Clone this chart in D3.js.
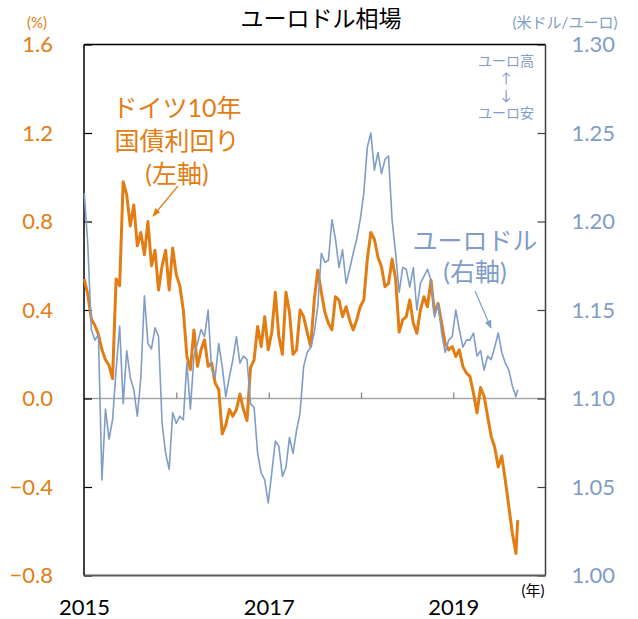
<!DOCTYPE html>
<html>
<head>
<meta charset="utf-8">
<script src="https://cdn.jsdelivr.net/npm/d3@7"></script>
<style>
  body { margin: 0; background: #fff; }
  svg text { font-family: Lato, "Noto Sans CJK JP", sans-serif; }
</style>
</head>
<body>
<div class="chart"></div>
<script>
var dates = [
  "2015-01-02","2015-01-16","2015-01-30","2015-02-13","2015-02-27","2015-03-13","2015-03-27","2015-04-10","2015-04-24","2015-05-08",
  "2015-05-22","2015-06-05","2015-06-19","2015-07-03","2015-07-17","2015-07-31","2015-08-14","2015-08-28","2015-09-11","2015-09-25",
  "2015-10-09","2015-10-23","2015-11-06","2015-11-20","2015-12-04","2015-12-18","2016-01-01","2016-01-15","2016-01-29","2016-02-12",
  "2016-02-26","2016-03-11","2016-03-25","2016-04-08","2016-04-22","2016-05-06","2016-05-20","2016-06-03","2016-06-17","2016-07-01",
  "2016-07-15","2016-07-29","2016-08-12","2016-08-26","2016-09-09","2016-09-23","2016-10-07","2016-10-21","2016-11-04","2016-11-18",
  "2016-12-02","2016-12-16","2016-12-30","2017-01-13","2017-01-27","2017-02-10","2017-02-24","2017-03-10","2017-03-24","2017-04-07",
  "2017-04-21","2017-05-05","2017-05-19","2017-06-02","2017-06-16","2017-06-30","2017-07-14","2017-07-28","2017-08-11","2017-08-25",
  "2017-09-08","2017-09-22","2017-10-06","2017-10-20","2017-11-03","2017-11-17","2017-12-01","2017-12-15","2017-12-29","2018-01-12",
  "2018-01-26","2018-02-09","2018-02-23","2018-03-09","2018-03-23","2018-04-06","2018-04-20","2018-05-04","2018-05-18","2018-06-01",
  "2018-06-15","2018-06-29","2018-07-13","2018-07-27","2018-08-10","2018-08-24","2018-09-07","2018-09-21","2018-10-05","2018-10-19",
  "2018-11-02","2018-11-16","2018-11-30","2018-12-14","2018-12-28","2019-01-11","2019-01-25","2019-02-08","2019-02-22","2019-03-08",
  "2019-03-22","2019-04-05","2019-04-19","2019-05-03","2019-05-17","2019-05-31","2019-06-14","2019-06-28","2019-07-12","2019-07-26",
  "2019-08-09","2019-08-23","2019-09-06","2019-09-13"
];

// German 10y Bund yield (%), left axis
var bundYield = [
  0.54,0.47,0.36,0.33,0.29,0.22,0.175,0.15,0.09,0.54,
  0.51,0.98,0.92,0.78,0.875,0.69,0.75,0.65,0.80,0.60,
  0.67,0.49,0.60,0.67,0.49,0.68,0.56,0.51,0.40,0.19,
  0.13,0.31,0.145,0.22,0.265,0.145,0.16,0.07,0.04,-0.16,
  -0.12,-0.05,-0.08,-0.05,0.02,-0.05,-0.10,0.14,0.175,0.325,
  0.235,0.37,0.22,0.30,0.48,0.28,0.20,0.48,0.39,0.20,
  0.22,0.40,0.37,0.30,0.235,0.445,0.58,0.48,0.39,0.34,
  0.31,0.46,0.445,0.37,0.415,0.355,0.31,0.355,0.415,0.445,
  0.63,0.75,0.72,0.64,0.595,0.505,0.52,0.63,0.54,0.30,
  0.355,0.37,0.445,0.34,0.295,0.40,0.46,0.415,0.535,0.385,
  0.43,0.34,0.25,0.22,0.235,0.19,0.22,0.145,0.115,0.10,
  0.025,-0.065,0.05,0.01,-0.08,-0.17,-0.22,-0.31,-0.26,-0.37,
  -0.49,-0.61,-0.70,-0.55
];

// EUR/USD (USD per EUR), right axis
var eurUsd = [
  1.216,1.187,1.139,1.133,1.136,1.054,1.094,1.077,1.088,1.116,
  1.141,1.097,1.127,1.112,1.105,1.090,1.112,1.158,1.131,1.128,
  1.140,1.135,1.086,1.069,1.060,1.092,1.086,1.090,1.088,1.120,
  1.094,1.124,1.131,1.139,1.135,1.150,1.116,1.112,1.131,1.118,
  1.101,1.112,1.122,1.135,1.120,1.124,1.122,1.097,1.095,1.069,
  1.058,1.054,1.041,1.058,1.076,1.073,1.056,1.061,1.078,1.069,
  1.082,1.092,1.118,1.126,1.129,1.137,1.152,1.182,1.177,1.178,
  1.201,1.190,1.174,1.184,1.165,1.173,1.182,1.190,1.201,1.216,
  1.242,1.250,1.229,1.239,1.227,1.235,1.237,1.201,1.182,1.160,
  1.174,1.173,1.163,1.174,1.150,1.165,1.169,1.173,1.167,1.146,
  1.154,1.137,1.126,1.133,1.135,1.150,1.139,1.129,1.133,1.133,
  1.137,1.124,1.127,1.116,1.124,1.122,1.129,1.137,1.126,1.120,
  1.116,1.107,1.101,1.105
];

var leftTicks = [-0.8, -0.4, 0.0, 0.4, 0.8, 1.2, 1.6];
var rightTicks = [1.00, 1.05, 1.10, 1.15, 1.20, 1.25, 1.30];
var yearTicks = ["2016", "2017", "2018", "2019"];
var yearLabels = ["2015", "2017", "2019"];

var orange = "#e27d14";
var blue = "#7f9dc6";

var svgWidth = 638;
var svgHeight = 619;
var margin = { top: 44.5, right: 92.5, bottom: 43.5, left: 84 };
var width = svgWidth - margin.left - margin.right;
var height = svgHeight - margin.top - margin.bottom;

var svg = d3.select(".chart")
  .append("svg")
  .attr("width", svgWidth)
  .attr("height", svgHeight);

var chartGroup = svg.append("g")
  .attr("transform", `translate(${margin.left}, ${margin.top})`);

var parseDate = d3.timeParse("%Y-%m-%d");
var parseYear = d3.timeParse("%Y");
var data = dates.map(function(d, i) {
  return { date: parseDate(d), bund: bundYield[i], fx: eurUsd[i] };
});

var xTimeScale = d3.scaleTime()
  .domain([parseYear("2015"), parseYear("2020")])
  .range([0, width]);
var yLeftScale = d3.scaleLinear().domain([-0.8, 1.6]).range([height, 0]);
var yRightScale = d3.scaleLinear().domain([1.0, 1.3]).range([height, 0]);

// zero line
chartGroup.append("line")
  .attr("x1", 0).attr("x2", width)
  .attr("y1", yLeftScale(0)).attr("y2", yLeftScale(0))
  .attr("stroke", "#a6a6a6")
  .attr("stroke-width", 1.5);

// year ticks sitting on the zero line
var yearAxis = d3.axisTop(xTimeScale)
  .tickValues(yearTicks.map(parseYear))
  .tickSize(6)
  .tickFormat("");
var yearG = chartGroup.append("g")
  .attr("transform", `translate(0,${yLeftScale(0)})`)
  .call(yearAxis);
yearG.select(".domain").remove();
yearG.selectAll("line").attr("stroke", "#7f7f7f").attr("stroke-width", 1.2);

// year labels under the plot
var labelAxis = d3.axisBottom(xTimeScale)
  .tickValues(yearLabels.map(parseYear))
  .tickSize(0)
  .tickPadding(24)
  .tickFormat(d3.timeFormat("%Y"));
var labelG = chartGroup.append("g")
  .attr("transform", `translate(0,${height})`)
  .call(labelAxis);
labelG.select(".domain").remove();
labelG.selectAll("text")
  .attr("font-size", 22)
  .attr("fill", "#000")
  .style("font-family", "Lato, 'Noto Sans CJK JP', sans-serif");

// left axis
var leftAxis = d3.axisLeft(yLeftScale)
  .tickValues(leftTicks)
  .tickSizeInner(-8)
  .tickSizeOuter(0)
  .tickPadding(31)
  .tickFormat(d3.format(".1f"));
var leftG = chartGroup.append("g").call(leftAxis);
leftG.select(".domain").remove();
leftG.selectAll("line").attr("stroke", "#000").attr("stroke-width", 1.2);
leftG.selectAll("text")
  .attr("font-size", 22)
  .attr("fill", orange)
  .style("font-family", "Lato, 'Noto Sans CJK JP', sans-serif");

// right axis
var rightAxis = d3.axisRight(yRightScale)
  .tickValues(rightTicks)
  .tickSizeInner(-8)
  .tickSizeOuter(0)
  .tickPadding(26)
  .tickFormat(d3.format(".2f"));
var rightG = chartGroup.append("g")
  .attr("transform", `translate(${width},0)`)
  .call(rightAxis);
rightG.select(".domain").remove();
rightG.selectAll("line").attr("stroke", "#404040").attr("stroke-width", 1.2);
rightG.selectAll("text")
  .attr("font-size", 22)
  .attr("fill", blue)
  .style("font-family", "Lato, 'Noto Sans CJK JP', sans-serif");

// frame
chartGroup.append("line").attr("x1", 0).attr("x2", width).attr("y1", 0).attr("y2", 0)
  .attr("stroke", "#000").attr("stroke-width", 1.5);
chartGroup.append("line").attr("x1", 0).attr("x2", width).attr("y1", height).attr("y2", height)
  .attr("stroke", "#595959").attr("stroke-width", 2);
chartGroup.append("line").attr("x1", 0).attr("x2", 0).attr("y1", 0).attr("y2", height)
  .attr("stroke", "#000").attr("stroke-width", 1.5);
chartGroup.append("line").attr("x1", width).attr("x2", width).attr("y1", 0).attr("y2", height)
  .attr("stroke", "#404040").attr("stroke-width", 1.5);

// lines
var bundLine = d3.line()
  .x(d => xTimeScale(d.date))
  .y(d => yLeftScale(d.bund));
var fxLine = d3.line()
  .x(d => xTimeScale(d.date))
  .y(d => yRightScale(d.fx));

chartGroup.append("path")
  .datum(data)
  .attr("d", bundLine)
  .attr("fill", "none")
  .attr("stroke", orange)
  .attr("stroke-width", 3)
  .attr("stroke-linejoin", "round");

chartGroup.append("path")
  .datum(data)
  .attr("d", fxLine)
  .attr("fill", "none")
  .attr("stroke", blue)
  .attr("stroke-width", 1.6)
  .attr("stroke-linejoin", "round");

// title and unit labels
svg.append("text")
  .attr("x", 321).attr("y", 18)
  .attr("text-anchor", "middle")
  .attr("dominant-baseline", "central")
  .attr("font-size", 23)
  .attr("fill", "#000")
  .text("ユーロドル相場");

svg.append("text")
  .attr("x", 37).attr("y", 22)
  .attr("text-anchor", "middle")
  .attr("dominant-baseline", "central")
  .attr("font-size", 15)
  .attr("fill", orange)
  .text("(%)");

svg.append("text")
  .attr("x", 565).attr("y", 22)
  .attr("text-anchor", "middle")
  .attr("dominant-baseline", "central")
  .attr("font-size", 15)
  .attr("fill", blue)
  .text("(米ドル/ユーロ)");

svg.append("text")
  .attr("x", 533).attr("y", 590)
  .attr("text-anchor", "middle")
  .attr("dominant-baseline", "central")
  .attr("font-size", 15)
  .attr("fill", "#000")
  .text("(年)");

// series annotations
var defs = svg.append("defs");
[["headOrange", orange], ["headBlue", blue]].forEach(function(m) {
  defs.append("marker")
    .attr("id", m[0])
    .attr("viewBox", "0 0 10 10")
    .attr("refX", 9).attr("refY", 5)
    .attr("markerWidth", 7).attr("markerHeight", 7)
    .attr("orient", "auto")
    .append("path")
    .attr("d", "M0,1 L10,5 L0,9 Z")
    .attr("fill", m[1]);
});

var bundNote = ["ドイツ10年", "国債利回り", "(左軸)"];
svg.selectAll(".bundNote")
  .data(bundNote)
  .enter()
  .append("text")
  .attr("class", "bundNote")
  .attr("x", 177)
  .attr("y", (d, i) => 107 + i * 33)
  .attr("text-anchor", "middle")
  .attr("dominant-baseline", "central")
  .attr("font-size", 25)
  .attr("fill", orange)
  .text(d => d);

svg.append("line")
  .attr("x1", 178).attr("y1", 186)
  .attr("x2", 153).attr("y2", 216)
  .attr("stroke", orange).attr("stroke-width", 1.2)
  .attr("marker-end", "url(#headOrange)");

var fxNote = ["ユーロドル", "(右軸)"];
svg.selectAll(".fxNote")
  .data(fxNote)
  .enter()
  .append("text")
  .attr("class", "fxNote")
  .attr("x", 475)
  .attr("y", (d, i) => 240 + i * 31)
  .attr("text-anchor", "middle")
  .attr("dominant-baseline", "central")
  .attr("font-size", 25)
  .attr("fill", blue)
  .text(d => d);

svg.append("line")
  .attr("x1", 475).attr("y1", 291)
  .attr("x2", 491).attr("y2", 328)
  .attr("stroke", blue).attr("stroke-width", 1.2)
  .attr("marker-end", "url(#headBlue)");

var dirNote = [["ユーロ高", 60], ["↑", 77], ["↓", 94], ["ユーロ安", 112]];
svg.selectAll(".dirNote")
  .data(dirNote)
  .enter()
  .append("text")
  .attr("class", "dirNote")
  .attr("x", 506)
  .attr("y", d => d[1])
  .attr("text-anchor", "middle")
  .attr("dominant-baseline", "central")
  .attr("font-size", 14)
  .attr("fill", blue)
  .text(d => d[0]);
</script>
</body>
</html>
